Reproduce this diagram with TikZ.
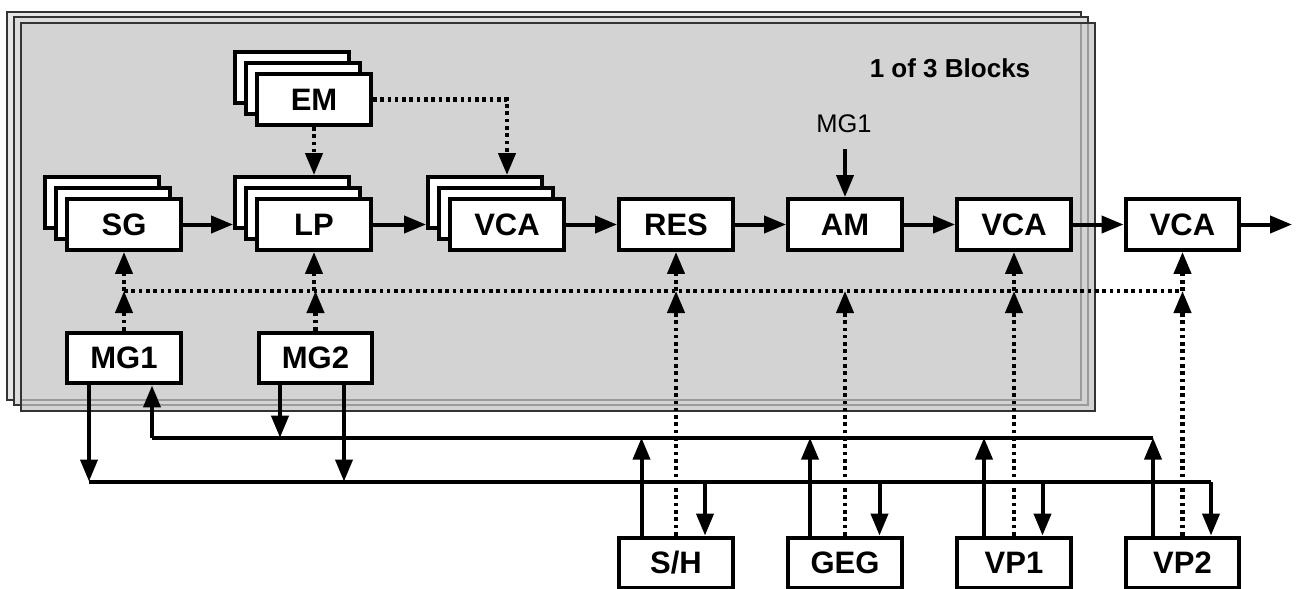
\documentclass[tikz,border=0pt]{standalone}
\usepackage{fontspec}
\setmainfont{Liberation Sans}
\usetikzlibrary{arrows.meta}
\definecolor{panA}{HTML}{E6E6E6}
\definecolor{panB}{HTML}{DCDCDC}
\definecolor{panC}{HTML}{D3D3D3}
\definecolor{panEdge}{HTML}{333333}
\definecolor{panHid}{HTML}{9A9A9A}
\begin{document}
\begin{tikzpicture}[x=1pt,y=-1pt,
  blk/.style={draw, line width=4.4pt, fill=white, minimum width=113.5pt, minimum height=50.5pt,
    inner sep=0pt, font=\bfseries\fontsize{31}{36}\selectfont},
  conn/.style={line width=4pt, -{Triangle[length=22pt,width=17pt]}},
  busline/.style={line width=4pt},
  dotline/.style={line width=4.2pt, dash pattern=on 3.6pt off 3.7pt},
  dotconn/.style={dotline, -{Triangle[length=22pt,width=17pt]}},
  panel/.style={line width=1.4pt, draw=panEdge}]
\useasboundingbox (0,0) rectangle (1296,589);
\clip (0,0) rectangle (1296,589);
% panels
\draw[panel, fill=panA] (7,12) rectangle (1081,400);
\draw[panel, fill=panB] (14,17) rectangle (1088,405);
\fill[panC] (21,23) rectangle (1095,411);
\begin{scope}
  \clip (21,23) rectangle (1095,411);
  \draw[line width=1.4pt, panHid] (7,12) rectangle (1081,400);
  \draw[line width=1.4pt, panHid] (14,17) rectangle (1088,405);
\end{scope}
\draw[panel] (21,23) rectangle (1095,411);
% title
\node[font=\bfseries\fontsize{26}{30}\selectfont] (ttl) at (950,68) {1 of 3 Blocks};
\node[font=\fontsize{25.5}{30}\selectfont] (mglbl) at (844,124) {MG1};
\coordinate (amin) at (845,149);
% stacked blocks
\node[blk] (sgb2) at (102,202.5) {};
\node[blk] (sgb1) at (113,213.5) {};
\node[blk] (sg) at (124,224.5) {SG};
\node[blk] (lpb2) at (292,202.5) {};
\node[blk] (lpb1) at (303,213.5) {};
\node[blk] (lp) at (314,224.5) {LP};
\node[blk] (emb2) at (292,77.5) {};
\node[blk] (emb1) at (303,88.5) {};
\node[blk] (em) at (314,99.5) {EM};
\node[blk] (vcab2) at (485,202.5) {};
\node[blk] (vcab1) at (496,213.5) {};
\node[blk] (vca) at (507,224.5) {VCA};
% single blocks
\node[blk] (res) at (676,224.5) {RES};
\node[blk] (am) at (845,224.5) {AM};
\node[blk] (vcb) at (1014,224.5) {VCA};
\node[blk] (vcc) at (1182.5,224.5) {VCA};
\node[blk] (mg1) at (124,358) {MG1};
\node[blk] (mg2) at (315.5,358) {MG2};
\node[blk] (sh) at (676,563) {S/H};
\node[blk] (geg) at (845,563) {GEG};
\node[blk] (vp1) at (1014,563) {VP1};
\node[blk] (vp2) at (1182.5,563) {VP2};
\coordinate (out) at (1292,224.5);
% main signal chain
\draw[conn] (sg.east) -- (lpb2.west |- sg.east);
\draw[conn] (lp.east) -- (vcab2.west |- lp.east);
\draw[conn] (vca.east) -- (res.west);
\draw[conn] (res.east) -- (am.west);
\draw[conn] (am.east) -- (vcb.west);
\draw[conn] (vcb.east) -- (vcc.west);
\draw[conn] (vcc.east) -- (out);
\draw[conn] (amin) -- (am.north);
% EM modulation
\draw[dotconn] (em.south) -- (em.south |- lpb2.north);
\draw[dotconn] (em.east) -| (vca |- vcab2.north);
% dotted modulation bus
\coordinate (dl) at (124,291);
\coordinate (dr) at (1182.5,291);
\draw[dotline] (dl) -- (dr);
\draw[dotconn] (mg1.north) -- (mg1.north |- dl);
\draw[dotconn] (sg |- dl) -- (sg.south);
\draw[dotconn] (mg2.north) -- (mg2.north |- dl);
\draw[dotconn] (lp |- dl) -- (lp.south);
\draw[dotconn] (sh.north) -- (sh.north |- dl);
\draw[dotconn] (res |- dl) -- (res.south);
\draw[dotconn] (geg.north) -- (geg.north |- dl);
\draw[dotconn] (vp1.north) -- (vp1.north |- dl);
\draw[dotconn] (vcb |- dl) -- (vcb.south);
\draw[dotconn] (vp2.north) -- (vp2.north |- dl);
\draw[dotconn] (vcc |- dl) -- (vcc.south);
% solid buses
\coordinate (ba) at (0,437.7);
\coordinate (bb) at (0,481.5);
\draw[busline] ([xshift=28pt]mg1.south |- ba) -- ([xshift=-29.5pt]vp2.north |- ba);
\draw[busline] ([xshift=-35pt]mg1.south |- bb) -- ([xshift=28.5pt]vp2.north |- bb);
\draw[conn] ([xshift=-35pt]mg1.south) -- ([xshift=-35pt]mg1.south |- bb);
\draw[conn] ([xshift=28pt]mg1.south |- ba) -- ([xshift=28pt]mg1.south);
\draw[conn] ([xshift=-35.5pt]mg2.south) -- ([xshift=-35.5pt]mg2.south |- ba);
\draw[conn] ([xshift=28.5pt]mg2.south) -- ([xshift=28.5pt]mg2.south |- bb);
\draw[conn] ([xshift=-34.5pt]sh.north) -- ([xshift=-34.5pt]sh.north |- ba);
\draw[conn] ([xshift=29pt]sh.north |- bb) -- ([xshift=29pt]sh.north);
\draw[conn] ([xshift=-35pt]geg.north) -- ([xshift=-35pt]geg.north |- ba);
\draw[conn] ([xshift=34.5pt]geg.north |- bb) -- ([xshift=34.5pt]geg.north);
\draw[conn] ([xshift=-30pt]vp1.north) -- ([xshift=-30pt]vp1.north |- ba);
\draw[conn] ([xshift=28.5pt]vp1.north |- bb) -- ([xshift=28.5pt]vp1.north);
\draw[conn] ([xshift=-29.5pt]vp2.north) -- ([xshift=-29.5pt]vp2.north |- ba);
\draw[conn] ([xshift=28.5pt]vp2.north |- bb) -- ([xshift=28.5pt]vp2.north);
\end{tikzpicture}
\end{document}
